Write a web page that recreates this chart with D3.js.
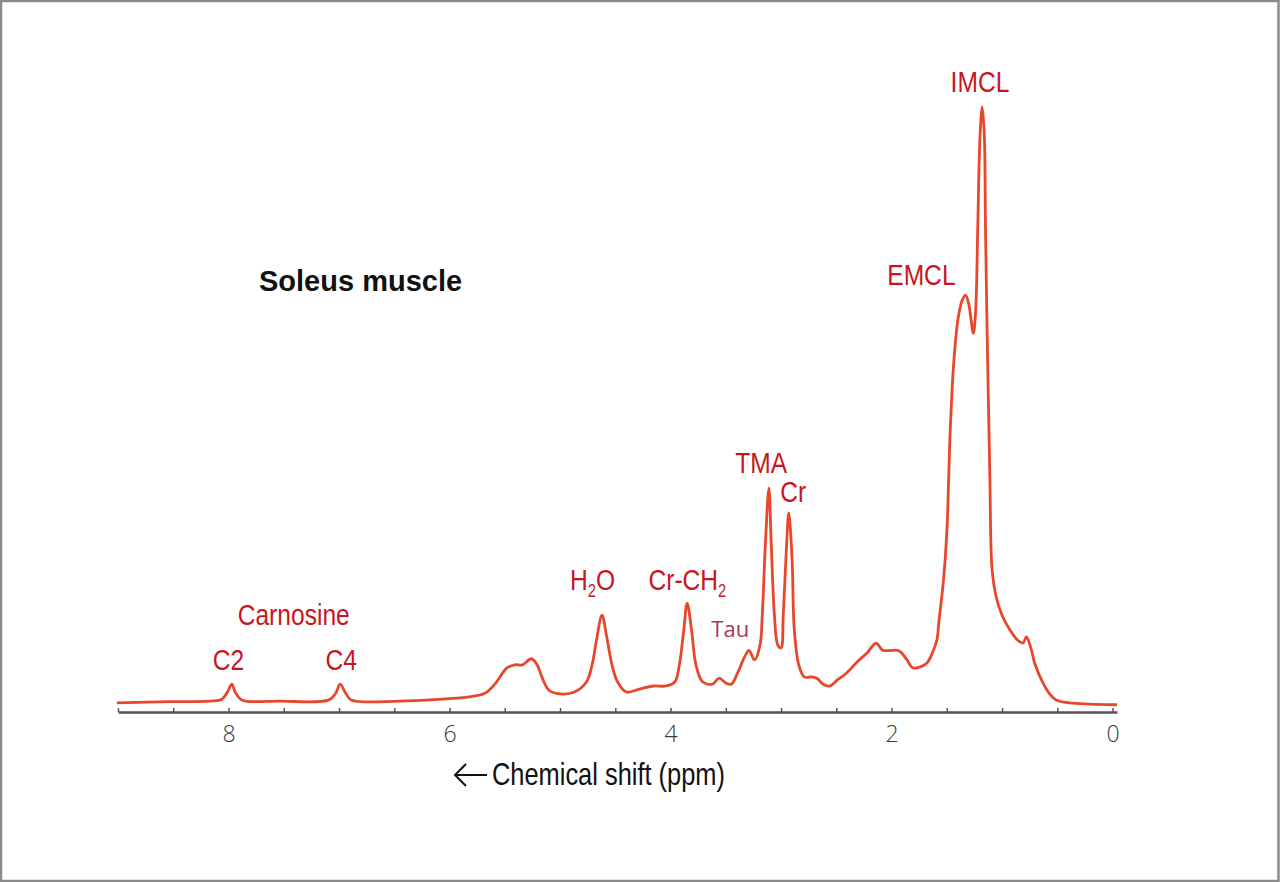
<!DOCTYPE html>
<html>
<head>
<meta charset="utf-8">
<script src="https://cdn.jsdelivr.net/npm/d3@7"></script>
<style>
	body { margin: 0; background: #fff; }
	#graphic svg { display: block; }
	.narrow { font-family: "Liberation Sans", Arial, sans-serif; }
	.tick text { font-family: "Open Sans", "Lato", sans-serif; font-weight: 300; fill: #3a3a3a; }
</style>
</head>
<body>
<div id="graphic"></div>
<script>
// chemical shift (ppm), left to right
const shiftPpm = [9.01, 8.53, 8.17, 8.06, 8.01, 7.97, 7.94, 7.88, 7.54, 7.09, 7.03, 6.99, 6.94, 6.89, 6.45, 6.09,
	5.82, 5.68, 5.59, 5.48, 5.41, 5.34, 5.26, 5.21, 5.16, 5.10, 5.00, 4.87, 4.76, 4.71, 4.67, 4.62, 4.58, 4.53,
	4.48, 4.40, 4.28, 4.16, 4.04, 3.96, 3.92, 3.88, 3.85, 3.81, 3.77, 3.71, 3.62, 3.56, 3.50, 3.45, 3.39, 3.33,
	3.29, 3.24, 3.19, 3.17, 3.14, 3.11, 3.09, 3.06, 3.03, 3.00, 2.98, 2.95, 2.93, 2.90, 2.88, 2.84, 2.79, 2.72,
	2.67, 2.62, 2.56, 2.49, 2.41, 2.31, 2.22, 2.14, 2.08, 2.00, 1.93, 1.86, 1.81, 1.75, 1.68, 1.63, 1.59, 1.57,
	1.53, 1.50, 1.47, 1.44, 1.40, 1.36, 1.33, 1.30, 1.26, 1.24, 1.22, 1.20, 1.18, 1.16, 1.15, 1.13, 1.11, 1.09,
	1.05, 1.00, 0.93, 0.86, 0.81, 0.78, 0.74, 0.70, 0.63, 0.57, 0.51, 0.39, 0.21, -0.04];

// signal intensity (arbitrary units, IMCL peak = 100)
const intensity = [1.5, 1.7, 1.8, 2.1, 3.3, 4.6, 3.3, 2.0, 1.8, 2.0, 3.1, 4.6, 3.1, 2.0, 1.8, 2.1,
	2.5, 3.1, 4.6, 7.3, 7.8, 7.8, 8.8, 7.9, 5.6, 3.6, 3.0, 3.3, 5.0, 7.8, 11.9, 16.0, 12.7, 7.8,
	5.0, 3.3, 3.8, 4.3, 4.3, 5.0, 7.8, 13.6, 18.0, 13.6, 7.8, 5.0, 4.6, 5.6, 4.8, 4.6, 6.6, 9.1,
	10.2, 8.6, 11.1, 16.0, 28.4, 37.0, 28.4, 16.0, 11.1, 10.6, 16.0, 27.6, 32.9, 25.1, 13.6, 7.8, 5.8, 5.8,
	5.5, 4.6, 4.3, 5.3, 6.4, 8.3, 9.8, 11.4, 10.2, 10.2, 10.1, 8.6, 7.3, 7.4, 8.1, 9.8, 11.9, 15.2,
	21.8, 29.6, 46.1, 57.0, 64.8, 68.1, 68.9, 67.3, 62.6, 66.0, 80.0, 95.0, 100, 95.0, 80.0, 57.4, 38.3, 23.5,
	18.8, 16.0, 13.6, 11.9, 11.4, 12.4, 10.6, 7.8, 4.8, 3.0, 2.0, 1.5, 1.3, 1.2];

const tickLabels = [8, 6, 4, 2, 0];

// peak names (subscript after "_"), with the ppm / intensity they sit at
const peakNames = ["IMCL", "EMCL", "TMA", "Cr", "Cr-CH_2", "H_2O", "Carnosine", "C2", "C4"];
const peakPpm = [1.20, 1.73, 3.18, 2.89, 4.20, 4.91, 7.41, 8.00, 6.98];
const peakLevel = [102.5, 70.6, 39.5, 34.7, 20.2, 20.2, 14.4, 6.9, 6.9];
const peakAnchor = ["middle", "middle", "middle", "middle", "start", "start", "middle", "middle", "middle"];

const width = 1280, height = 882;
const squeeze = 0.82; // condensed face, done by squeezing Liberation Sans

let svg = d3.select('#graphic')
	.append('svg')
	.attr('width', width)
	.attr('height', height);

// grey frame
svg.append('rect')
	.attr('x', 1).attr('y', 1)
	.attr('width', width - 2.5).attr('height', height - 2)
	.attr('fill', '#fff')
	.attr('stroke', '#8a8a8a')
	.attr('stroke-width', 2.5);

const x = d3.scaleLinear().domain([9, -0.04]).range([118, 1117]);
const y = d3.scaleLinear().domain([0, 100]).range([712, 107]);

//x axis, minor ticks every 0.5 ppm
let xAxis = d3.axisBottom(x)
	.tickValues(d3.range(0, 9.01, 0.5))
	.tickSize(-4)
	.tickSizeOuter(0)
	.tickFormat(d => tickLabels.includes(d) ? d : '');

let axisG = svg.append('g')
	.attr('transform', 'translate(0,712)')
	.call(xAxis);

axisG.select('.domain').attr('stroke', '#555').attr('stroke-width', 2.5);
axisG.selectAll('line').attr('stroke', '#555').attr('stroke-width', 1.5);
axisG.selectAll('text')
	.attr('dy', 0)
	.attr('y', 30)
	.style('font-size', '23px');

// spectrum
const points = d3.zip(shiftPpm, intensity);

svg.append('path')
	.datum(points)
	.attr('fill', 'none')
	.attr('stroke', '#e8472c')
	.attr('stroke-width', 2.8)
	.attr('stroke-linejoin', 'round')
	.attr('d', d3.line()
		.x(d => x(d[0]))
		.y(d => y(d[1]))
		.curve(d3.curveCatmullRom.alpha(0.5)));

// condensed text helper
function addNarrowText(px, py, anchor, str, size, colour) {
	let t = svg.append('g')
		.attr('transform', `translate(${px},${py}) scale(${squeeze},1)`)
		.append('text')
		.attr('class', 'narrow')
		.attr('text-anchor', anchor)
		.style('font-size', size + 'px')
		.attr('fill', colour);

	let parts = str.split('_');
	t.append('tspan').text(parts[0]);
	if (parts.length > 1) {
		t.append('tspan').attr('dy', 7).style('font-size', '18px').text(parts[1][0]);
		if (parts[1].length > 1) {
			t.append('tspan').attr('dy', -7).text(parts[1].slice(1));
		}
	}
	return t;
}

// peak labels
peakNames.forEach((name, i) => {
	addNarrowText(x(peakPpm[i]), y(peakLevel[i]), peakAnchor[i], name, 30, '#c8161e');
});

// Tau is set in a lighter face
svg.append('text')
	.attr('x', x(3.46))
	.attr('y', y(12.4))
	.attr('text-anchor', 'middle')
	.style('font-family', '"Open Sans", sans-serif')
	.style('font-size', '22px')
	.attr('fill', '#a3394f')
	.text('Tau');

// title
svg.append('text')
	.attr('x', 259)
	.attr('y', 291)
	.style('font-family', '"Liberation Sans", Arial, sans-serif')
	.style('font-weight', 'bold')
	.style('font-size', '29px')
	.attr('fill', '#111')
	.text('Soleus muscle');

// axis title with arrow
svg.append('path')
	.attr('d', 'M487,775 H455 M466,764 L455,775 L466,786')
	.attr('fill', 'none')
	.attr('stroke', '#111')
	.attr('stroke-width', 2);

addNarrowText(492, 785, 'start', 'Chemical shift (ppm)', 31, '#111');
</script>
</body>
</html>
